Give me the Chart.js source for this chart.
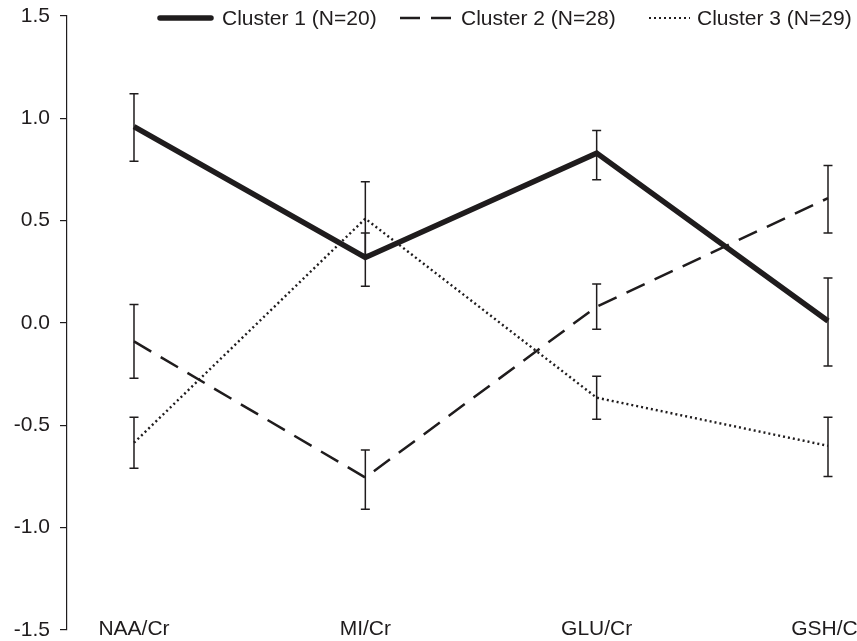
<!DOCTYPE html>
<html>
<head>
<meta charset="utf-8">
<script src="https://cdn.jsdelivr.net/npm/chart.js@4.4.1/dist/chart.umd.min.js"></script>
<style>
    body { margin: 0; background: #fff; overflow: hidden; }
    #wrap { width: 880px; height: 641px; }
    canvas { display: block; }
</style>
</head>
<body>
<div id="wrap"><canvas id="chart" width="880" height="641"></canvas></div>
<script>
// ratios on the x axis
const categories = ['NAA/Cr', 'MI/Cr', 'GLU/Cr', 'GSH/Cr'];

// cluster means (z-scores) and error bar ends
const cluster1 = [0.96, 0.32, 0.83, 0.01];
const cluster1Low = [0.79, 0.18, 0.70, -0.21];
const cluster1High = [1.12, 0.44, 0.94, 0.22];

const cluster2 = [-0.09, -0.755, 0.08, 0.61];
const cluster2Low = [-0.27, -0.91, -0.03, 0.44];
const cluster2High = [0.09, -0.62, 0.19, 0.77];

const cluster3 = [-0.585, 0.51, -0.365, -0.60];
const cluster3Low = [-0.71, 0.335, -0.47, -0.75];
const cluster3High = [-0.46, 0.69, -0.26, -0.46];

const seriesNames = ['Cluster 1 (N=20)', 'Cluster 2 (N=28)', 'Cluster 3 (N=29)'];
const yTicks = [-1.5, -1.0, -0.5, 0.0, 0.5, 1.0, 1.5];

const ink = '#1f1c1d';
const font = '"Liberation Sans", Arial, Helvetica, sans-serif';

function toPoints(values, low, high) {
    return values.map(function (v, i) {
        return { x: i, y: v, lo: low[i], hi: high[i] };
    });
}

// error bars drawn on top of the lines
const errorBars = {
    id: 'errorBars',
    afterDatasetsDraw: function (chart) {
        const ctx = chart.ctx;
        const xs = chart.scales.x;
        const ys = chart.scales.y;
        ctx.save();
        ctx.strokeStyle = ink;
        ctx.lineWidth = 1.5;
        ctx.setLineDash([]);
        chart.data.datasets.forEach(function (ds) {
            ds.data.forEach(function (p) {
                const x = xs.getPixelForValue(p.x);
                const yLo = ys.getPixelForValue(p.lo);
                const yHi = ys.getPixelForValue(p.hi);
                ctx.beginPath();
                ctx.moveTo(x, yLo);
                ctx.lineTo(x, yHi);
                ctx.moveTo(x - 4.5, yLo);
                ctx.lineTo(x + 4.5, yLo);
                ctx.moveTo(x - 4.5, yHi);
                ctx.lineTo(x + 4.5, yHi);
                ctx.stroke();
            });
        });
        ctx.restore();
    }
};

// legend row across the top
const topLegend = {
    id: 'topLegend',
    afterDraw: function (chart) {
        const ctx = chart.ctx;
        const items = [
            { x1: 160, x2: 211, tx: 222 },
            { x1: 400, x2: 451, tx: 461 },
            { x1: 649, x2: 690, tx: 697 }
        ];
        ctx.save();
        ctx.font = '21px ' + font;
        ctx.fillStyle = ink;
        ctx.textBaseline = 'middle';
        chart.data.datasets.forEach(function (ds, i) {
            const it = items[i];
            ctx.strokeStyle = ink;
            ctx.lineWidth = i === 2 ? 2 : ds.borderWidth;
            ctx.setLineDash(ds.borderDash || []);
            ctx.lineCap = i === 0 ? 'round' : 'butt';
            ctx.beginPath();
            ctx.moveTo(it.x1, 18);
            ctx.lineTo(it.x2, 18);
            ctx.stroke();
            ctx.fillText(seriesNames[i], it.tx, 19);
        });
        ctx.restore();
    }
};

new Chart(document.getElementById('chart').getContext('2d'), {
    type: 'line',
    data: {
        datasets: [{
            label: seriesNames[0],
            data: toPoints(cluster1, cluster1Low, cluster1High),
            borderColor: ink,
            borderWidth: 5.5,
            borderJoinStyle: 'miter'
        }, {
            label: seriesNames[1],
            data: toPoints(cluster2, cluster2Low, cluster2High),
            borderColor: ink,
            borderWidth: 2.5,
            borderDash: [20, 11]
        }, {
            label: seriesNames[2],
            data: toPoints(cluster3, cluster3Low, cluster3High),
            borderColor: ink,
            borderWidth: 2.4,
            borderDash: [2, 3]
        }]
    },
    options: {
        responsive: false,
        animation: false,
        layout: { padding: { top: 16, right: 0, left: 0, bottom: 0 } },
        elements: { point: { radius: 0, hoverRadius: 0 }, line: { tension: 0 } },
        plugins: { legend: { display: false }, tooltip: { enabled: false } },
        scales: {
            x: {
                type: 'linear',
                min: -0.2896,
                max: 3.2248,
                afterBuildTicks: function (axis) {
                    axis.ticks = categories.map(function (c, i) { return { value: i }; });
                },
                afterFit: function (axis) {
                    axis.height = 11;
                    axis.paddingLeft = 0;
                    axis.paddingRight = 0;
                },
                ticks: {
                    callback: function (v) { return categories[v]; },
                    color: ink,
                    font: { family: font, size: 21 },
                    mirror: true,
                    padding: -12,
                    maxRotation: 0,
                    autoSkip: false
                },
                grid: { display: false },
                border: { display: false }
            },
            y: {
                min: -1.5,
                max: 1.5,
                afterBuildTicks: function (axis) {
                    axis.ticks = yTicks.map(function (v) { return { value: v }; });
                },
                afterFit: function (axis) {
                    axis.width = 67;
                    axis.paddingTop = 0;
                    axis.paddingBottom = 0;
                },
                ticks: {
                    callback: function (v) { return v.toFixed(1); },
                    color: ink,
                    font: { family: font, size: 21 },
                    padding: 10
                },
                grid: { drawOnChartArea: false, drawTicks: true, tickLength: 7, color: ink, lineWidth: 1.2 },
                border: { display: true, color: ink, width: 1.2 }
            }
        }
    },
    plugins: [errorBars, topLegend]
});
</script>
</body>
</html>
